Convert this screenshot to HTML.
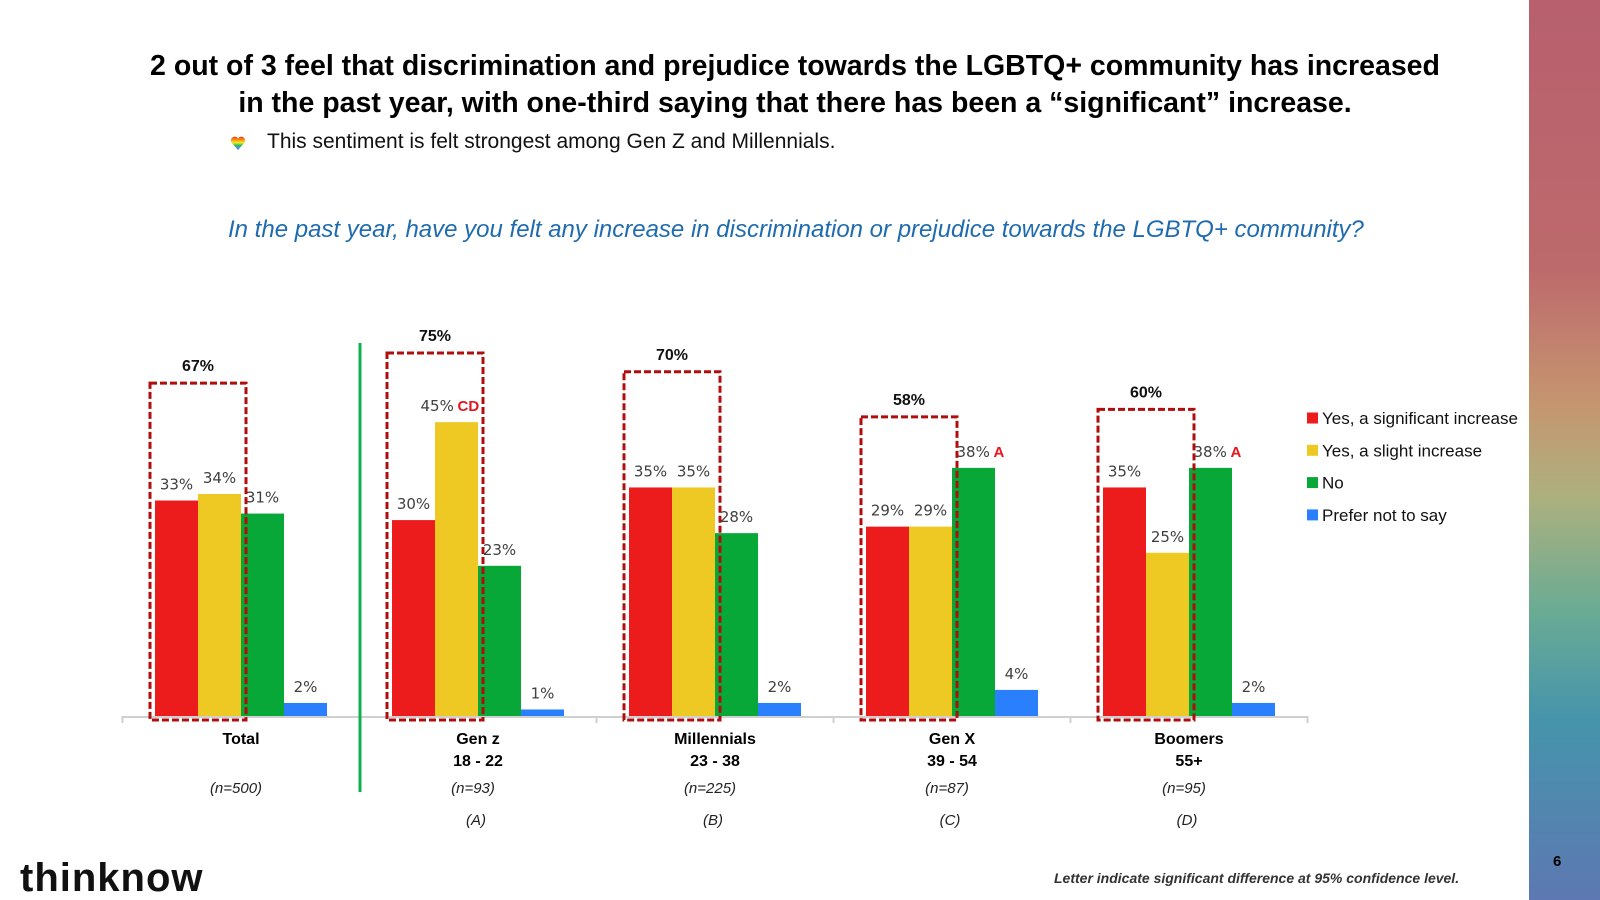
<!DOCTYPE html>
<html><head><meta charset="utf-8"><style>
html,body{margin:0;padding:0;background:#fff;}
body{width:1600px;height:900px;position:relative;overflow:hidden;font-family:"Liberation Sans",sans-serif;}
.abs{position:absolute;}
</style></head><body>
<div class="abs" style="left:1529px;top:0;width:71px;height:900px;background:linear-gradient(180deg,#b8606e 0%,#bd6a6c 30%,#c59670 45%,#aeb07e 55%,#6aab94 68%,#4694ac 80%,#5d78b2 100%);"></div>
<div class="abs" style="left:1553px;top:853px;font-size:15px;font-weight:bold;color:#000;">6</div>
<div class="abs" style="left:60px;top:48px;width:1470px;text-align:center;font-size:28.5px;line-height:37px;font-weight:bold;color:#000;">2 out of 3 feel that discrimination and prejudice towards the LGBTQ+ community has increased<br>in the past year, with one-third saying that there has been a “significant” increase.</div>
<div class="abs" style="left:230px;top:135px;width:16px;height:16px;">
<svg width="16" height="16" viewBox="0 0 16 16"><defs><linearGradient id="rb" x1="0" y1="0" x2="0" y2="1"><stop offset="0" stop-color="#e33"/><stop offset=".25" stop-color="#f90"/><stop offset=".45" stop-color="#ee3"/><stop offset=".65" stop-color="#3b4"/><stop offset=".85" stop-color="#39f"/><stop offset="1" stop-color="#a3c"/></linearGradient></defs><path d="M8 15 L1.5 7.5 A3.5 3.5 0 0 1 8 3.5 A3.5 3.5 0 0 1 14.5 7.5 Z" fill="url(#rb)"/></svg></div>
<div class="abs" style="left:267px;top:130px;font-size:21px;color:#111;">This sentiment is felt strongest among Gen Z and Millennials.</div>
<div class="abs" style="left:228px;top:216px;font-size:24px;font-style:italic;color:#1f6bb0;">In the past year, have you felt any increase in discrimination or prejudice towards the LGBTQ+ community?</div>
<div class="abs" style="left:20px;top:858px;font-size:40px;font-weight:bold;color:#111;line-height:1;letter-spacing:1px;">thinknow</div>
<div class="abs" style="left:1054px;top:870px;font-size:14px;font-weight:bold;font-style:italic;color:#333;">Letter indicate significant difference at 95% confidence level.</div>

<svg id="chart" class="abs" style="left:0;top:0" width="1600" height="900"></svg>
<script>
const categories=["Total","Gen z","Millennials","Gen X","Boomers"];
const subLabels=["","18 - 22","23 - 38","39 - 54","55+"];
const nLabels=["(n=500)","(n=93)","(n=225)","(n=87)","(n=95)"];
const groupLetters=["","(A)","(B)","(C)","(D)"];
const seriesNames=["Yes, a significant increase","Yes, a slight increase","No","Prefer not to say"];
const seriesColors=["#ed1c1c","#eec924","#07a837","#2a7fff"];
const significant=[33,30,35,29,35];
const slight=[34,45,35,29,25];
const noVals=[31,23,28,38,38];
const preferNot=[2,1,2,4,2];
const netIncrease=[67,75,70,58,60];
const sigLetters=[["","","",""],["","CD","",""],["","","",""],["","","A",""],["","","A",""]];
const series=[significant,slight,noVals,preferNot];

const NS="http://www.w3.org/2000/svg";
const svg=document.getElementById('chart');
const baseY=716, pxPer=6.53, groupW=237, firstCenter=241, barW=43;
function yScale(v){return baseY-v*pxPer;}
function xCenter(i){return firstCenter+i*groupW;}
function barX(i,s){return xCenter(i)-2*barW+s*barW;}
function boxH(v){return 3.76*v+85;}
function mk(tag,attrs){const e=document.createElementNS(NS,tag);for(const k in attrs)e.setAttribute(k,attrs[k]);svg.appendChild(e);return e;}
function txt(x,y,s,attrs){const e=mk('text',Object.assign({x:x,y:y},attrs));e.textContent=s;return e;}

const ax=mk('line',{x1:122,y1:baseY+1,x2:1308,y2:baseY+1,stroke:'#d0d0d0','stroke-width':2});


for(let i=0;i<=categories.length;i++){
  const tx=xCenter(0)-groupW/2+i*groupW;
  const t=mk('line',{x1:tx,y1:baseY,x2:tx,y2:baseY+7,stroke:'#d0d0d0','stroke-width':2});
  
  
}
const dv=mk('line',{x1:360,y1:343,x2:360,y2:792,stroke:'#10b050','stroke-width':3});



for(let i=0;i<categories.length;i++){
  for(let s=0;s<4;s++){
    const v=series[s][i];
    const r=mk('rect',{x:barX(i,s),y:yScale(v),width:barW,height:v*pxPer,fill:seriesColors[s]});
    
    
    const cx=barX(i,s)+barW/2;
    const letter=sigLetters[i][s];
    if(letter){
      const start=cx-17-19*(letter.length-1);
      const lt=txt(start,yScale(v)-11,v+'%',{'font-size':15,fill:'#404040','font-family':'DejaVu Sans, sans-serif'});
      
      
      const sl=txt(start+37,yScale(v)-11,letter,{'font-size':15,'font-weight':'bold',fill:'#e8141c'});
      
      
    } else {
      const lt=txt(cx,yScale(v)-11,v+'%',{'text-anchor':'middle','font-size':15,fill:'#404040','font-family':'DejaVu Sans, sans-serif'});
      
      
    }
  }
  const bx=barX(i,0)-5, bw=2*barW+10, bh=boxH(netIncrease[i]), by=baseY+4-bh;
  const b=mk('rect',{x:bx,y:by,width:bw,height:bh,fill:'none',stroke:'#b00d0d','stroke-width':3,'stroke-dasharray':'7 3'});
  
  
  const nt=txt(bx+bw/2,by-12,netIncrease[i]+'%',{'text-anchor':'middle','font-size':16,'font-weight':'bold',fill:'#111'});
  
  
  const c=txt(xCenter(i),744,categories[i],{'text-anchor':'middle','font-size':16,'font-weight':'bold',fill:'#000'});
  
  
  if(subLabels[i]){
    const c2=txt(xCenter(i),766,subLabels[i],{'text-anchor':'middle','font-size':16,'font-weight':'bold',fill:'#000'});
    
    
  }
  const n=txt(xCenter(i)-5,793,nLabels[i],{'text-anchor':'middle','font-size':15,'font-style':'italic',fill:'#222'});
  
  
  if(groupLetters[i]){
    const g=txt(xCenter(i)-2,825,groupLetters[i],{'text-anchor':'middle','font-size':15,'font-style':'italic',fill:'#222'});
    
    
  }
}
for(let s=0;s<4;s++){
  const ly=418+s*32.3;
  const sq=mk('rect',{x:1307,y:ly-5.5,width:11,height:11,fill:seriesColors[s]});
  
  
  const lt=txt(1322,ly+6,seriesNames[s],{'font-size':17,fill:'#111'});
  
  
}
</script>
</body></html>
